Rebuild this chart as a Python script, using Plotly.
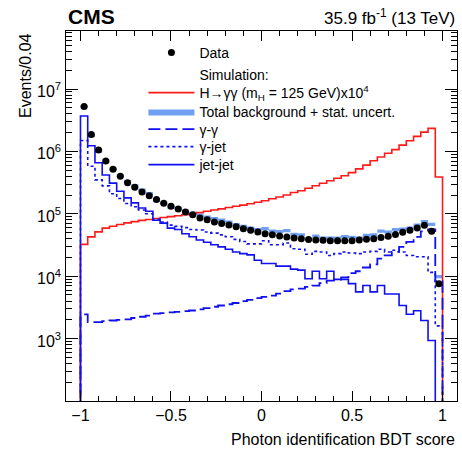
import math
import plotly.graph_objects as go

# ---------------- data ----------------
BIN_LO, BIN_W, N_BINS = -1.0, 0.04, 50

data_events = [5.25e6, 1.87e6, 1.05e6, 7.0e5, 5.2e5, 4.0e5, 3.16e5, 2.67e5, 2.24e5, 1.94e5,
               1.70e5, 1.48e5, 1.32e5, 1.2e5, 1.07e5, 9.7e4, 8.6e4, 8.0e4, 7.4e4, 7.0e4,
               6.6e4, 6.2e4, 5.75e4, 5.45e4, 5.1e4, 4.8e4, 4.6e4, 4.4e4, 4.25e4, 4.1e4,
               4.0e4, 3.86e4, 3.8e4, 3.78e4, 3.7e4, 3.7e4, 3.7e4, 3.7e4, 3.8e4, 3.9e4,
               4.0e4, 4.17e4, 4.37e4, 4.65e4, 5.07e4, 5.46e4, 5.9e4, 6.56e4, 5.25e4, 7.6e3]

signal_x1e4 = [3.24e4, 4.27e4, 5.13e4, 5.89e4, 6.31e4, 6.76e4, 7.16e4, 7.5e4, 7.85e4, 8.13e4,
               8.41e4, 8.71e4, 9.02e4, 9.33e4, 9.66e4, 1.0e5, 1.05e5, 1.10e5, 1.15e5, 1.20e5,
               1.26e5, 1.32e5, 1.38e5, 1.45e5, 1.53e5, 1.62e5, 1.74e5, 1.86e5, 2.0e5, 2.19e5,
               2.34e5, 2.57e5, 2.82e5, 3.09e5, 3.39e5, 3.72e5, 4.07e5, 4.57e5, 5.25e5, 6.03e5,
               7.08e5, 8.13e5, 9.33e5, 1.07e6, 1.26e6, 1.48e6, 1.74e6, 2.04e6, 2.34e6, 3.9e5]

gamma_gamma = [2450, 1840, 1840, 1900, 1950, 2000, 2040, 2140, 2240, 2340,
               2510, 2570, 2630, 2690, 2750, 2820, 2950, 3090, 3240, 3390,
               3550, 3720, 3980, 4170, 4470, 4680, 4900, 5250, 5750, 6170,
               6310, 6760, 7080, 7760, 8510, 8810, 9550, 11200, 12000, 13800,
               15500, 19100, 21600, 24500, 29500, 35500, 42700, 52500, 56200, 8300]

gamma_jet = [1.5e6, 5.8e5, 3.5e5, 2.8e5, 2.1e5, 1.76e5, 1.46e5, 1.3e5, 1.15e5, 1.0e5,
             8.2e4, 7.4e4, 6.6e4, 6.3e4, 6.0e4, 5.6e4, 5.5e4, 5.1e4, 4.9e4, 4.6e4,
             4.3e4, 3.9e4, 3.6e4, 3.3e4, 3.3e4, 3.7e4, 3.2e4, 3.2e4, 3.4e4, 2.75e4,
             2.7e4, 2.25e4, 2.5e4, 2.45e4, 2.15e4, 2.3e4, 2.45e4, 2.35e4, 2.3e4, 2.45e4,
             2.5e4, 2.7e4, 2.45e4, 2.6e4, 2.45e4, 2.15e4, 2.05e4, 2.05e4, 1.15e4, 1.6e3]

jet_jet = [3.7e6, 1.23e6, 6.6e5, 4.2e5, 3.1e5, 2.3e5, 1.8e5, 1.5e5, 1.24e5, 1.1e5,
           7.9e4, 7.1e4, 5.9e4, 5.6e4, 4.8e4, 4.3e4, 3.8e4, 3.5e4, 3.2e4, 2.95e4,
           2.7e4, 2.45e4, 2.3e4, 2.2e4, 1.8e4, 1.6e4, 1.6e4, 1.45e4, 1.45e4, 1.3e4,
           1.25e4, 9.1e3, 1.2e4, 9.1e3, 1.2e4, 8.9e3, 8.9e3, 7.6e3, 5.6e3, 7.1e3,
           5.6e3, 7.1e3, 5.2e3, 5.2e3, 3.4e3, 2.45e3, 2.8e3, 1.95e3, 930, 0]

total_bkg = [5.2e6, 1.81e6, 1.01e6, 7.0e5, 5.2e5, 4.08e5, 3.28e5, 2.82e5, 2.41e5, 2.12e5,
             1.64e5, 1.48e5, 1.28e5, 1.22e5, 1.11e5, 1.02e5, 9.6e4, 8.9e4, 8.4e4, 7.9e4,
             7.4e4, 6.7e4, 6.3e4, 5.9e4, 5.6e4, 5.8e4, 5.3e4, 5.2e4, 5.4e4, 4.7e4,
             4.6e4, 3.9e4, 4.4e4, 4.1e4, 4.1e4, 4.1e4, 4.3e4, 4.2e4, 4.1e4, 4.5e4,
             4.6e4, 5.3e4, 5.1e4, 5.6e4, 5.7e4, 5.9e4, 6.6e4, 7.5e4, 6.8e4, 9.9e3]
bkg_rel_unc = 0.06

y_tick_vals = [1e3, 1e4, 1e5, 1e6, 1e7]
y_tick_text = ["10<sup>3</sup>", "10<sup>4</sup>", "10<sup>5</sup>", "10<sup>6</sup>", "10<sup>7</sup>"]
x_tick_vals = [-1, -0.5, 0, 0.5, 1]
x_tick_text = ["\u22121", "\u22120.5", "0", "0.5", "1"]

# ---------------- helpers ----------------
edges = [BIN_LO + BIN_W * i for i in range(N_BINS + 1)]
centers = [BIN_LO + BIN_W * (i + 0.5) for i in range(N_BINS)]
FLOOR = 1e-2  # "empty" level, far below the visible axis


def hist_outline(vals):
    ys = [v if v > 0 else FLOOR for v in vals]
    x = [edges[0]] + edges[:-1] + [edges[-1], edges[-1]]
    y = [FLOOR] + ys + [ys[-1], FLOOR]
    return x, y


def step(vals):
    return edges[:-1] + [edges[-1]], list(vals) + [vals[-1]]


BLUE = "#1010f0"
RED = "#ff1a1a"
BAND = "#6fa0f2"
FONT = "Liberation Sans"

fig = go.Figure()

# total background band
xb, yl = step([v * (1 - bkg_rel_unc) for v in total_bkg])
_, yu = step([v * (1 + bkg_rel_unc) for v in total_bkg])
fig.add_trace(go.Scatter(x=xb, y=yl, mode="lines", line=dict(width=0, shape="hv", color=BAND),
                         showlegend=False, hoverinfo="skip"))
fig.add_trace(go.Scatter(x=xb, y=yu, mode="lines", line=dict(width=0, shape="hv", color=BAND),
                         fill="tonexty", fillcolor=BAND, name="Total background + stat. uncert.",
                         legend="legend4"))

# signal
x, y = hist_outline(signal_x1e4)
fig.add_trace(go.Scatter(x=x, y=y, mode="lines", line=dict(color=RED, width=1.6, shape="hv"),
                         name="H\u2192\u03b3\u03b3 (m<sub>H</sub> = 125 GeV)x10<sup>4</sup>",
                         legend="legend3"))

# backgrounds
x, y = hist_outline(gamma_gamma)
fig.add_trace(go.Scatter(x=x, y=y, mode="lines",
                         line=dict(color=BLUE, width=1.8, shape="hv", dash="12px,5px"),
                         name="\u03b3-\u03b3", legend="legend5"))
x, y = hist_outline(gamma_jet)
fig.add_trace(go.Scatter(x=x, y=y, mode="lines",
                         line=dict(color=BLUE, width=1.6, shape="hv", dash="3px,3px"),
                         name="\u03b3-jet", legend="legend6"))
x, y = hist_outline(jet_jet)
fig.add_trace(go.Scatter(x=x, y=y, mode="lines", line=dict(color=BLUE, width=1.6, shape="hv"),
                         name="jet-jet", legend="legend7"))

# "Simulation:" header entry
fig.add_trace(go.Scatter(x=[None], y=[None], mode="lines", line=dict(color="rgba(0,0,0,0)", width=0),
                         name="Simulation:", legend="legend2"))

# data
fig.add_trace(go.Scatter(x=centers, y=data_events, mode="markers",
                         marker=dict(color="black", size=7, symbol="circle"),
                         name="Data", legend="legend"))

# one single-entry legend per row so each row sits where the reference puts it
PLOT_TOP, PLOT_H = 31, 370
row_px = [53, 75, 93, 112, 129.5, 147, 165]
legend_names = ["legend", "legend2", "legend3", "legend4", "legend5", "legend6", "legend7"]
legends = {}
for nm, py in zip(legend_names, row_px):
    legends[nm] = dict(x=0.198, y=1 - (py - PLOT_TOP) / PLOT_H, xanchor="left", yanchor="middle",
                       bgcolor="rgba(0,0,0,0)", font=dict(size=14, family=FONT),
                       itemwidth=46, traceorder="normal")

annotations = [
    dict(text="<b>CMS</b>", x=0, y=1.0, xref="paper", yref="paper",
         xanchor="left", yanchor="bottom", showarrow=False, font=dict(size=21), yshift=1),
    dict(text="35.9 fb<sup>-1</sup> (13 TeV)", x=1, y=1.0, xref="paper", yref="paper",
         xanchor="right", yanchor="bottom", showarrow=False, font=dict(size=17), yshift=1),
    dict(text="Photon identification BDT score", x=1, y=0, xref="paper", yref="paper",
         xanchor="right", yanchor="top", showarrow=False, font=dict(size=16), yshift=-28),
    dict(text="Events/0.04", x=0, y=1, xref="paper", yref="paper", textangle=-90,
         xanchor="right", yanchor="top", showarrow=False, font=dict(size=16), xshift=-30),
]
# y tick labels (10^n), placed on the y axis scale
for v, t in zip(y_tick_vals, y_tick_text):
    annotations.append(dict(text=t, x=0, xref="paper", y=math.log10(v), yref="y",
                            xanchor="right", yanchor="middle", showarrow=False,
                            font=dict(size=16), xshift=-3, yshift=-1))

fig.update_layout(
    width=462, height=453,
    margin=dict(l=66, r=5, t=31, b=52),
    paper_bgcolor="white", plot_bgcolor="white",
    font=dict(family=FONT, color="black", size=14),
    annotations=annotations,
    **legends,
)

fig.update_xaxes(range=[-1.08, 1.08], tickvals=x_tick_vals, ticktext=x_tick_text,
                 ticks="inside", ticklen=10, tickcolor="black", showline=True, linecolor="black",
                 linewidth=1, mirror="ticks", showgrid=False, zeroline=False,
                 tickfont=dict(size=16),
                 minor=dict(ticks="inside", ticklen=5, dtick=0.1, tick0=0, tickcolor="black", showgrid=False))
fig.update_yaxes(type="log", range=[2, 7.93], tickvals=y_tick_vals, showticklabels=False,
                 ticks="inside", ticklen=12, tickcolor="black", showline=True, linecolor="black",
                 linewidth=1, mirror="ticks", showgrid=False, zeroline=False,
                 minor=dict(ticks="inside", ticklen=6, dtick="D1", tickcolor="black", showgrid=False))

fig.write_html("out.html")
